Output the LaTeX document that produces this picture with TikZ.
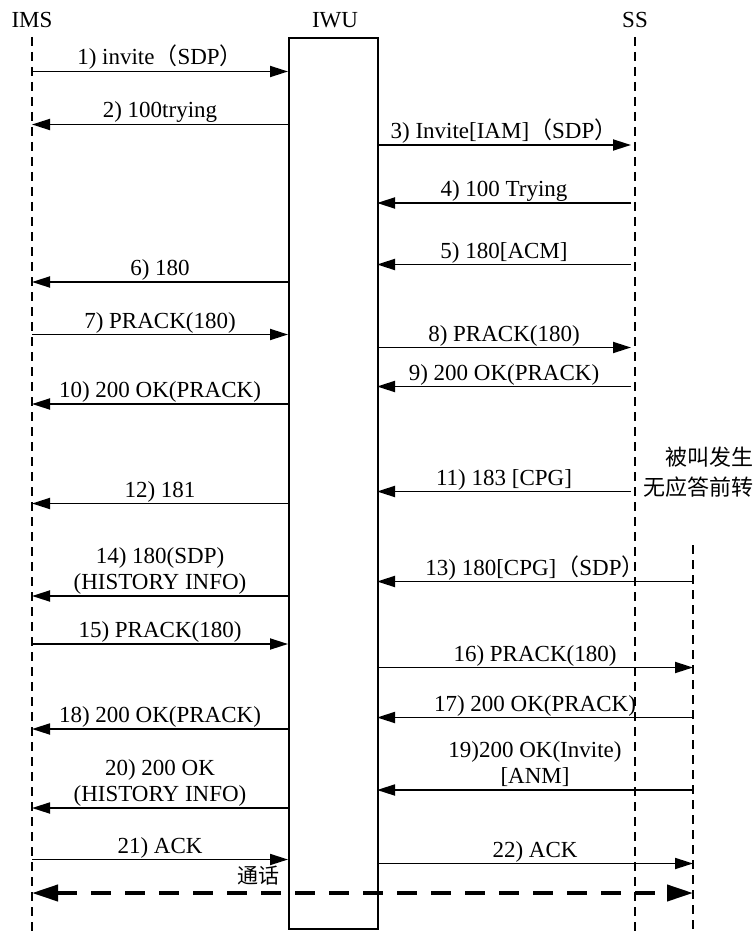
\documentclass[tikz,border=0pt]{standalone}
\usepackage{fontspec}
\setmainfont{Liberation Serif}
\newfontfamily\cjk{Noto Sans CJK SC}
\usetikzlibrary{arrows.meta,calc}
\newcommand\fwl{{\cjk （}}
\newcommand\fwr{{\cjk ）}}
\newcommand\mymsg[5]{%
  \coordinate (#1s) at (#2,#4);
  \coordinate (#1e) at (#3,#4);
  \draw[msg] (#1s) -- (#1e) node[lbl, midway] {#5};
}
\begin{document}
\begin{tikzpicture}[x=1pt,y=-1pt,
  msg/.style={line width=1.8pt,-{Triangle[length=18pt,width=11pt]}},
  life/.style={line width=1.8pt,dash pattern=on 9pt off 6pt},
  lbl/.style={font=\fontsize{23}{26.5}\selectfont, inner sep=0pt, anchor=base, yshift=6.5pt, align=center},
  head/.style={font=\fontsize{23}{26}\selectfont, inner sep=0pt, anchor=base},
  talk/.style={line width=4pt, dash pattern=on 20pt off 14pt, {Triangle[length=26pt,width=16pt]}-{Triangle[length=26pt,width=16pt]}}]
\useasboundingbox (0,0) rectangle (755,933);

% headers
\node[head] (ims) at (32,28) {IMS};
\node[head] (iwu) at (335,28) {IWU};
\node[head] (ss) at (635,28) {SS};

% lifelines
\coordinate (imsT) at (32,37);  \coordinate (imsB) at (32,933);
\coordinate (ssT) at (635,37);  \coordinate (ssB) at (635,933);
\coordinate (fwT) at (693,545); \coordinate (fwB) at (693,933);
\draw[life] (imsT) -- (imsB);
\draw[life] (ssT) -- (ssB);
\draw[life] (fwT) -- (fwB);

% IWU box
\node[draw, line width=1.8pt, minimum width=89pt, minimum height=891pt, inner sep=0pt, anchor=north west] (box) at (288,37) {};

% messages
\mymsg{m1}{32}{288}{71.5}{1) invite\fwl SDP\fwr}
\mymsg{m2}{288}{32}{124.5}{2) 100trying}
\mymsg{m3}{377}{631}{145}{3) Invite[IAM]\fwl SDP\fwr}
\mymsg{m4}{631}{377}{203}{4) 100 Trying}
\mymsg{m5}{631}{377}{264.5}{5) 180[ACM]}
\mymsg{m6}{288}{32}{282}{6) 180}
\mymsg{m7}{32}{288}{334.5}{7) PRACK(180)}
\mymsg{m8}{377}{631}{347.5}{8) PRACK(180)}
\mymsg{m9}{631}{377}{386.5}{9) 200 OK(PRACK)}
\mymsg{m10}{288}{32}{404}{10) 200 OK(PRACK)}
\mymsg{m11}{631}{377}{491.5}{11) 183 [CPG]}
\mymsg{m12}{288}{32}{503.5}{12) 181}
\mymsg{m13}{693}{377}{581.5}{13) 180[CPG]\fwl SDP\fwr}
\mymsg{m14}{288}{32}{596}{14) 180(SDP)\\(HISTORY INFO)}
\mymsg{m15}{32}{288}{644}{15) PRACK(180)}
\mymsg{m16}{377}{693}{667.5}{16) PRACK(180)}
\mymsg{m17}{693}{377}{717.5}{17) 200 OK(PRACK)}
\mymsg{m18}{288}{32}{729}{18) 200 OK(PRACK)}
\mymsg{m19}{693}{377}{790}{19)200 OK(Invite)\\{[ANM]}}
\mymsg{m20}{288}{32}{808}{20) 200 OK\\(HISTORY INFO)}
\mymsg{m21}{32}{288}{859.5}{21) ACK}
\mymsg{m22}{377}{693}{863.5}{22) ACK}

% conversation
\coordinate (tL) at (32,893);
\coordinate (tR) at (693,893);
\draw[talk] (tL) -- (tR);
\node[font=\cjk\fontsize{21}{24}\selectfont, inner sep=0pt] (talklbl) at (258,876) {通话};

% note
\node[font=\cjk\fontsize{22}{30}\selectfont, inner sep=0pt, align=right, anchor=north east] (note) at (754,447) {被叫发生\\无应答前转};
\end{tikzpicture}
\end{document}
